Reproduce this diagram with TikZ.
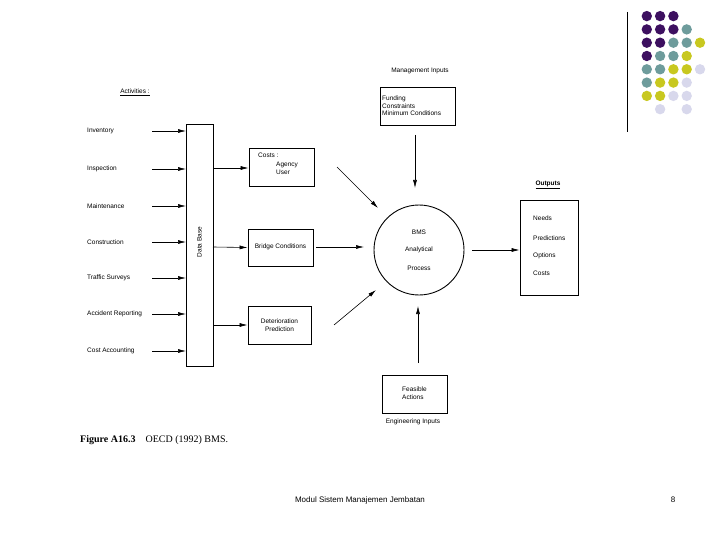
\documentclass[tikz,border=0pt]{standalone}
\usepackage{fontspec}
\setmainfont{Liberation Sans}
\newfontfamily\serifx{Liberation Serif}
\usetikzlibrary{arrows.meta}
\definecolor{dP}{HTML}{3D1060}
\definecolor{dT}{HTML}{6E9C9C}
\definecolor{dY}{HTML}{C8C820}
\definecolor{dL}{HTML}{D8D8EC}
\begin{document}
\begin{tikzpicture}[x=1pt,y=-1pt,
  box/.style={draw,line width=0.9pt},
  lab/.style={font=\fontsize{6.5}{7.5}\selectfont,align=left,inner sep=0pt},
  arr/.style={-{Latex[length=8pt,width=4pt]},line width=0.6pt}]
\useasboundingbox (0,0) rectangle (720,540);
% dots
\draw[line width=1pt] (627,12) -- (627,132);
\foreach \c/\i/\j in {dP/1/1,dP/2/1,dP/3/1,dP/1/2,dP/2/2,dP/3/2,dT/4/2,dP/1/3,dP/2/3,dT/3/3,dT/4/3,dY/5/3,dP/1/4,dT/2/4,dT/3/4,dY/4/4,dT/1/5,dT/2/5,dY/3/5,dY/4/5,dL/5/5,dT/1/6,dY/2/6,dY/3/6,dL/4/6,dY/1/7,dY/2/7,dL/3/7,dL/4/7,dL/2/8,dL/4/8}
  \fill[\c] ({633.5+13.3*\i},{2.8+13.3*\j}) circle (5.2);
% texts
\node[lab] (mi) at (420,71) {Management Inputs};
\node[box,minimum width=75,minimum height=38] (fund) at (417.5,106) {};
\node[lab,anchor=west] at (382,106) {Funding\\Constraints\\Minimum Conditions};
\node[lab] (act) at (135,92) {\underline{Activities :}};
\foreach \n/\t/\y in {a1/Inventory/131,a2/Inspection/169,a3/Maintenance/206,a4/Construction/242,a5/Traffic Surveys/278,a6/Accident Reporting/314,a7/Cost Accounting/351}{
  \node[lab,anchor=west] (\n) at (87,\y) {\t};
  \coordinate (\n s) at (152,\y);
  \coordinate (\n e) at (186,\y);
  \draw[arr] (\n s) -- (\n e);
}
\node[box,minimum width=27,minimum height=242] (db) at (199.5,245) {};
\node[lab,rotate=90] at (199.5,242) {Data Base};
\node[box,minimum width=65,minimum height=38] (costs) at (281.5,167) {};
\node[lab,anchor=north west] at (258,153) {Costs :};
\node[lab,anchor=north west] at (276,162) {Agency\\User};
\node[box,minimum width=65,minimum height=37] (bc) at (280.5,247.5) {};
\node[lab] at (280.5,247) {Bridge Conditions};
\node[box,minimum width=63,minimum height=38] (det) at (279.5,325) {};
\node[lab,align=center] at (279.5,325) {Deterioration\\Prediction};
\draw[arr] (213,168) -- (costs.west|-0,168);
\draw[arr] (213,247) -- (bc.west);
\draw[arr] (213,325) -- (det.west);
\node[draw,circle,line width=0.9pt,minimum size=90] (bms) at (419,250) {};
\node[lab] at (419,232) {BMS};
\node[lab] at (419,250) {Analytical};
\node[lab] at (419,268) {Process};
\coordinate (c1) at (337,167); \coordinate (c1e) at (378,208);
\draw[arr] (c1) -- (c1e);
\coordinate (b1) at (316,247); \coordinate (b1e) at (364,247);
\draw[arr] (b1) -- (b1e);
\coordinate (d1) at (334,325); \coordinate (d1e) at (376,290);
\draw[arr] (d1) -- (d1e);
\coordinate (m1) at (415,135); \coordinate (m1e) at (415,188);
\draw[arr] (m1) -- (m1e);
\coordinate (e1) at (418,363); \coordinate (e1e) at (418,306);
\draw[arr] (e1) -- (e1e);
\node[lab] (outl) at (548,185) {\underline{\textbf{Outputs}}};
\node[box,minimum width=58,minimum height=95] (out) at (549,247.5) {};
\draw[arr] (472,250) -- (out.west|-0,250);
\node[lab,anchor=west] at (533,218) {Needs};
\node[lab,anchor=west] at (533,238) {Predictions};
\node[lab,anchor=west] at (533,256) {Options};
\node[lab,anchor=west] at (533,273) {Costs};
\node[box,minimum width=65,minimum height=38] (fa) at (414.5,394) {};
\node[lab,align=left] at (414.5,393) {Feasible\\Actions};
\node[lab] at (413,422) {Engineering Inputs};
\node[anchor=west,inner sep=0pt,font=\serifx\fontsize{10}{12}\selectfont] (fig) at (80,440) {\textbf{Figure A16.3}\quad OECD (1992) BMS.};
\node[font=\fontsize{8}{10}\selectfont] (foot) at (360,500) {Modul Sistem Manajemen Jembatan};
\node[font=\fontsize{8}{10}\selectfont] (pg) at (673,500) {8};
\end{tikzpicture}
\end{document}
